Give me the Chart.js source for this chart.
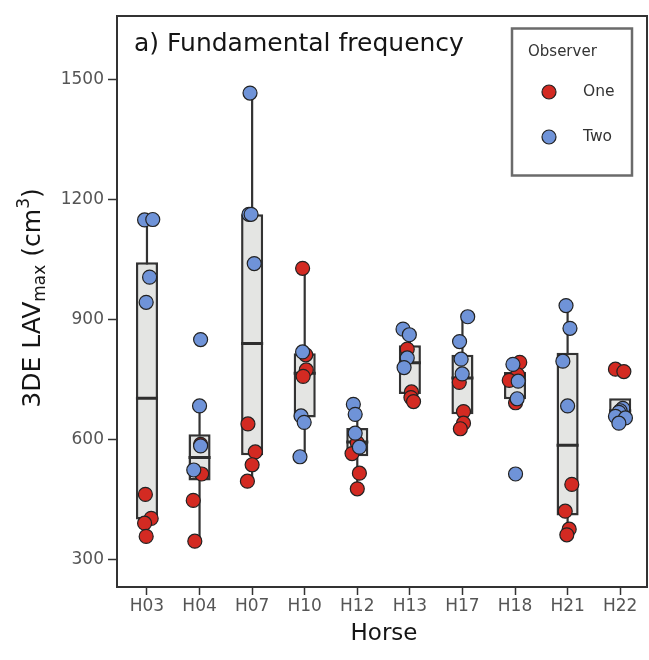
<!DOCTYPE html>
<html>
<head>
<meta charset="utf-8">
<script src="https://cdn.jsdelivr.net/npm/chart.js@4.4.1/dist/chart.umd.min.js"></script>
<style>
  html, body { margin: 0; padding: 0; background: #fff; overflow: hidden; }
  canvas { display: block; }
</style>
</head>
<body>
<canvas id="chart" width="649" height="660"></canvas>
<script>
const horses = ["H03","H04","H07","H10","H12","H13","H17","H18","H21","H22"];
const yTicks = [300, 600, 900, 1200, 1500];

// observer one (red) and two (blue), values per horse
const obsOne = [
  [463, 403, 391, 358],
  [588, 514, 448, 346],
  [639, 569, 537, 496],
  [1028, 812, 774, 758],
  [592, 565, 516, 477],
  [826, 719, 705, 695],
  [743, 670, 641, 627],
  [793, 762, 748, 692],
  [488, 421, 376, 362],
  [776, 770]
];
const obsTwo = [
  [1149, 1150, 1006, 943],
  [850, 684, 584, 524],
  [1466, 1163, 1163, 1040],
  [819, 659, 643, 557],
  [688, 663, 616, 581],
  [876, 862, 804, 780],
  [907, 845, 801, 764],
  [788, 746, 702, 514],
  [935, 878, 796, 684],
  [678, 672, 668, 658, 654, 641]
];
// horizontal jitter, in category units
const jitterOne = [
  [-0.03, 0.08, -0.045, -0.015],
  [0.02, 0.04, -0.12, -0.09],
  [-0.08, 0.06, 0, -0.09],
  [-0.04, 0.02, 0.03, -0.03],
  [0, -0.1, 0.04, 0],
  [-0.05, 0.03, 0.02, 0.07],
  [-0.06, 0.02, 0.02, -0.04],
  [0.09, 0.05, -0.11, 0.01],
  [0.08, -0.045, 0.03, -0.015],
  [-0.09, 0.07]
];
const jitterTwo = [
  [-0.045, 0.11, 0.05, -0.015],
  [0.02, 0, 0.02, -0.11],
  [-0.04, -0.06, -0.02, 0.04],
  [-0.04, -0.07, -0.01, -0.09],
  [-0.075, -0.04, -0.04, 0.04],
  [-0.13, -0.01, -0.05, -0.11],
  [0.1, -0.055, -0.025, -0.005],
  [-0.04, 0.06, 0.04, 0.01],
  [-0.03, 0.045, -0.09, 0],
  [0.05, 0, -0.025, -0.09, 0.1, -0.025]
];

// box plot statistics per horse
const boxLow  = [358, 346, 496, 557, 477, 695, 627, 692, 362, 641];
const boxQ1   = [400, 498, 561, 655, 558, 714, 663, 701, 410, 661];
const boxMed  = [703, 555, 840, 766, 594, 792, 754, 748, 586, 672];
const boxQ3   = [1043, 613, 1163, 816, 629, 836, 812, 769, 817, 703];
const boxHigh = [1150, 684, 1466, 1028, 688, 876, 907, 793, 935, 680];

const FONT = "DejaVu Sans";
const BOX_W = 0.42;
const AREA_RIGHT = 647;

function points(vals, jit){
  const out = [];
  vals.forEach((arr, i) => arr.forEach((v, j) => out.push({ x: i + 1 + jit[i][j], y: v })));
  return out;
}

const whiskerData = [];
const medianData = [];
const boxData = [];
horses.forEach((h, i) => {
  const x = i + 1;
  whiskerData.push({ x, y: boxLow[i] }, { x, y: boxHigh[i] }, { x, y: null });
  medianData.push({ x: x - BOX_W / 2, y: boxMed[i] }, { x: x + BOX_W / 2, y: boxMed[i] }, { x, y: null });
  boxData.push({ x, y: [boxQ1[i], boxQ3[i]] });
});

// the layout keeps a few pixels free at the right; pin the panel edge instead
const pinRight = {
  id: 'pinRight',
  afterLayout(chart){
    const a = chart.chartArea;
    const xs = chart.scales.x;
    a.right = AREA_RIGHT;
    a.width = a.right - a.left;
    xs.right = AREA_RIGHT;
    xs.width = xs.right - xs.left;
    xs.configure();
    xs._labelItems = null;
    xs._gridLineItems = null;
  }
};

// in-panel title, axis titles, legend and panel border
const decor = {
  id: 'decor',
  afterDatasetsDraw(chart){
    const { ctx, chartArea: a } = chart;
    ctx.save();
    ctx.strokeStyle = '#333';
    ctx.lineWidth = 2;
    ctx.strokeRect(a.left, a.top, a.right - a.left, a.bottom - a.top);
    ctx.restore();
  },
  afterDraw(chart){
    const { ctx } = chart;
    ctx.save();
    ctx.fillStyle = '#151515';
    ctx.textBaseline = 'alphabetic';
    ctx.textAlign = 'left';
    ctx.font = `25px "${FONT}"`;
    ctx.fillText('a) Fundamental frequency', 134, 50.5);

    ctx.textAlign = 'center';
    ctx.font = `23px "${FONT}"`;
    ctx.fillText('Horse', 384, 639.5);

    // rotated y title with subscript and superscript
    const parts = [
      { t: '3DE LAV', s: 25, dy: 0 },
      { t: 'max', s: 17, dy: 5 },
      { t: ' (cm', s: 25, dy: 0 },
      { t: '3', s: 17, dy: -11 },
      { t: ')', s: 25, dy: 0 }
    ];
    ctx.textAlign = 'left';
    let total = 0;
    parts.forEach(p => { ctx.font = `${p.s}px "${FONT}"`; p.w = ctx.measureText(p.t).width; total += p.w; });
    ctx.translate(39.5, 298);
    ctx.rotate(-Math.PI / 2);
    let px = -total / 2;
    parts.forEach(p => { ctx.font = `${p.s}px "${FONT}"`; ctx.fillText(p.t, px, p.dy); px += p.w; });
    ctx.restore();

    // legend
    ctx.save();
    ctx.fillStyle = '#fff';
    ctx.fillRect(512, 28.5, 120, 147);
    ctx.strokeStyle = '#6b6b6b';
    ctx.lineWidth = 2.5;
    ctx.strokeRect(512, 28.5, 120, 147);
    ctx.fillStyle = '#333';
    ctx.font = `15px "${FONT}"`;
    ctx.textBaseline = 'middle';
    ctx.fillText('Observer', 528, 52);
    const items = [
      { t: 'One', c: chart.data.datasets[0].backgroundColor, y: 92 },
      { t: 'Two', c: chart.data.datasets[1].backgroundColor, y: 137 }
    ];
    items.forEach(it => {
      ctx.beginPath();
      ctx.arc(549, it.y, 7, 0, Math.PI * 2);
      ctx.fillStyle = it.c;
      ctx.fill();
      ctx.lineWidth = 1.2;
      ctx.strokeStyle = '#222';
      ctx.stroke();
      ctx.fillStyle = '#333';
      ctx.font = `15.5px "${FONT}"`;
      ctx.fillText(it.t, 583, it.y);
    });
    ctx.restore();
  }
};

new Chart(document.getElementById('chart'), {
  type: 'bar',
  data: {
    datasets: [
      { type: 'scatter', label: 'One', data: points(obsOne, jitterOne), backgroundColor: '#d32a22',
        borderColor: '#222', borderWidth: 1.2, pointRadius: 7, order: 1 },
      { type: 'scatter', label: 'Two', data: points(obsTwo, jitterTwo), backgroundColor: '#6f93d8',
        borderColor: '#222', borderWidth: 1.2, pointRadius: 7, order: 0 },
      { type: 'line', label: 'median', data: medianData, borderColor: '#2e2e2e', borderWidth: 3,
        pointRadius: 0, spanGaps: false, order: 2 },
      { type: 'bar', label: 'box', data: boxData, backgroundColor: '#e4e5e3', borderColor: '#333',
        borderWidth: 2.5, borderSkipped: false, barPercentage: BOX_W, categoryPercentage: 1, order: 3 },
      { type: 'line', label: 'whisker', data: whiskerData, borderColor: '#333', borderWidth: 2.2,
        pointRadius: 0, spanGaps: false, order: 4 }
    ]
  },
  options: {
    responsive: false,
    animation: false,
    events: [],
    layout: { padding: { left: 0, top: 16, right: 649 - AREA_RIGHT, bottom: 0 } },
    plugins: { legend: { display: false }, tooltip: { enabled: false } },
    scales: {
      x: {
        type: 'linear', min: 0.43, max: 10.51, offset: false,
        afterBuildTicks: s => { s.ticks = horses.map((h, i) => ({ value: i + 1 })); },
        afterFit: s => { s.height = 73; s.paddingLeft = 0; s.paddingRight = 0; },
        ticks: { callback: (v, i) => horses[i], font: { family: FONT, size: 17 }, color: '#555',
                 padding: 1, maxRotation: 0, autoSkip: false },
        grid: { drawOnChartArea: false, drawTicks: true, tickLength: 8, tickColor: '#333', tickWidth: 1.5, offset: false },
        border: { display: false }
      },
      y: {
        type: 'linear', min: 231.5, max: 1658.7, beginAtZero: false,
        afterBuildTicks: s => { s.ticks = yTicks.map(v => ({ value: v })); },
        afterFit: s => { s.width = 117; s.paddingTop = 0; s.paddingBottom = 0; },
        ticks: { callback: v => String(v), font: { family: FONT, size: 17 }, color: '#555', padding: 4 },
        grid: { drawOnChartArea: false, drawTicks: true, tickLength: 9, tickColor: '#333', tickWidth: 1.5 },
        border: { display: false }
      }
    }
  },
  plugins: [pinRight, decor]
});
</script>
</body>
</html>
